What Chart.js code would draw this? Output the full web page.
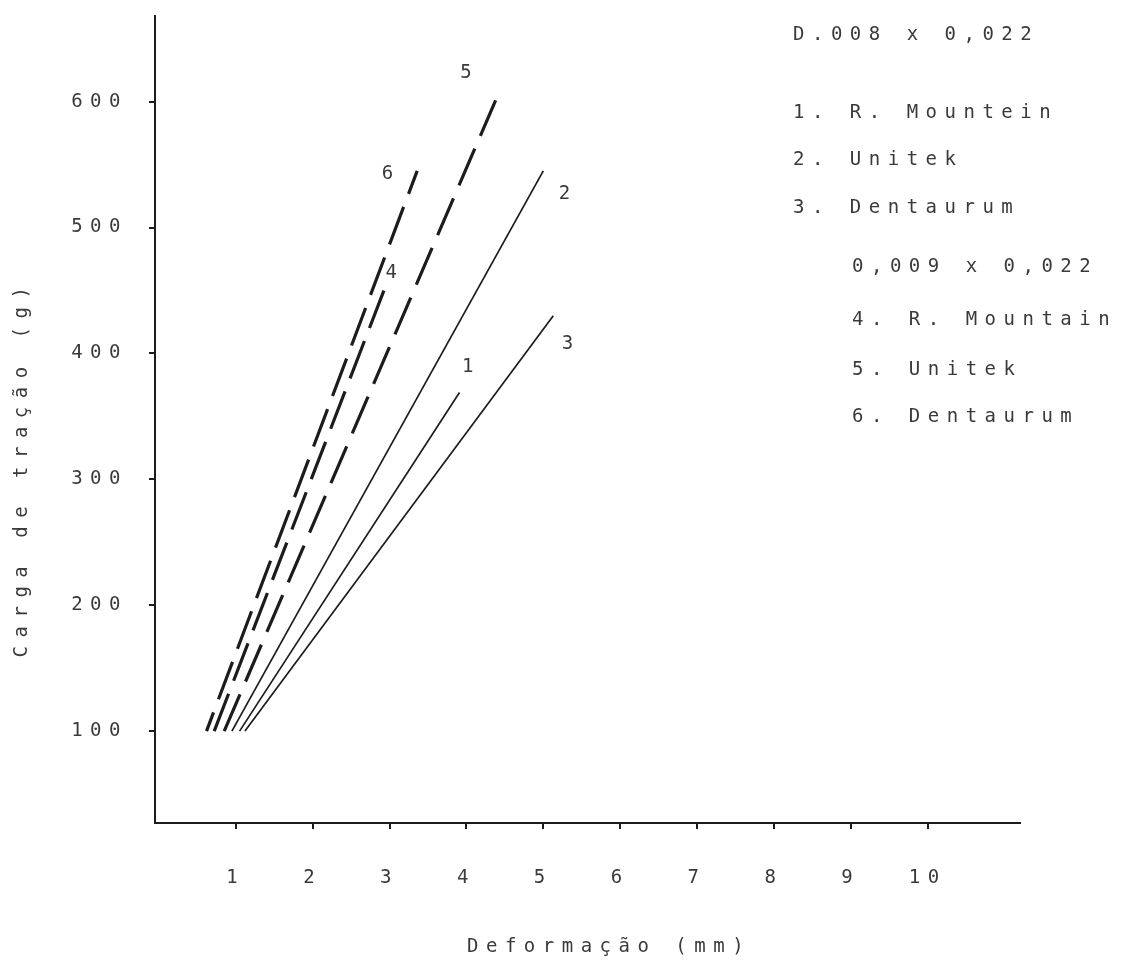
<!DOCTYPE html>
<html>
<head>
<meta charset="utf-8">
<script src="https://cdn.jsdelivr.net/npm/chart.js@4.4.1/dist/chart.umd.min.js"></script>
<style>
  html, body { margin: 0; padding: 0; background: #fff; }
  #wrap { width: 1122px; height: 960px; position: relative; }
</style>
</head>
<body>
<div id="wrap"><canvas id="c"></canvas></div>
<script>
// --- Data ---

const xTicks = [1, 2, 3, 4, 5, 6, 7, 8, 9, 10]
const yTicks = [100, 200, 300, 400, 500, 600]

// 0,008 x 0,022 (solid)
const line1 = [{ x: 1.05, y: 100 }, { x: 3.91, y: 369 }]
const line2 = [{ x: 0.95, y: 100 }, { x: 5.0, y: 545 }]
const line3 = [{ x: 1.12, y: 100 }, { x: 5.13, y: 430 }]
// 0,009 x 0,022 (dashed)
const line4 = [{ x: 0.72, y: 100 }, { x: 2.94, y: 452 }]
const line5 = [{ x: 0.85, y: 100 }, { x: 4.38, y: 601 }]
const line6 = [{ x: 0.62, y: 100 }, { x: 3.36, y: 545 }]

const seriesLabels = ['1', '2', '3', '4', '5', '6']

const legendText = [
  'D.008 x 0,022',
  '1. R. Mountein',
  '2. Unitek',
  '3. Dentaurum',
  '0,009 x 0,022',
  '4. R. Mountain',
  '5. Unitek',
  '6. Dentaurum'
]

// --- Styling ---

const FONT = '19px "DejaVu Sans Mono", "Liberation Mono", monospace'
const SPACING = '7.5px'
const INK = '#1c1c1c'
const TEXT = '#3a3a3a'

// where each number sits relative to the top end of its line
const labelOffsets = [[12, -25], [25, 23], [18, 28], [10, -15], [-26, -27], [-26, 3]]
// legend rows: [left, middle]
const legendPos = [[793, 35], [793, 113], [793, 160], [793, 208], [852, 267], [852, 320], [852, 370], [852, 417]]

function ds(data, dashed, dashOffset) {
  return {
    data: data,
    showLine: true,
    borderColor: INK,
    borderWidth: dashed ? 3.2 : 1.7,
    borderDash: dashed ? [40, 14] : [],
    borderDashOffset: dashOffset || 0,
    pointRadius: 0,
    fill: false,
    tension: 0
  }
}

const typewriter = {
  id: 'typewriter',
  beforeDraw(chart) {
    chart.ctx.letterSpacing = SPACING
  },
  afterDraw(chart) {
    const ctx = chart.ctx
    ctx.save()
    ctx.letterSpacing = SPACING
    ctx.font = FONT
    ctx.fillStyle = TEXT
    ctx.textBaseline = 'middle'

    // numbers at the line ends
    ctx.textAlign = 'center'
    chart.data.datasets.forEach((d, i) => {
      const meta = chart.getDatasetMeta(i)
      const pt = meta.data[meta.data.length - 1]
      ctx.fillText(seriesLabels[i], pt.x + labelOffsets[i][0], pt.y + labelOffsets[i][1])
    })

    // legend block
    ctx.textAlign = 'left'
    legendText.forEach((t, i) => ctx.fillText(t, legendPos[i][0], legendPos[i][1]))

    // axis titles
    ctx.fillText('Deformação (mm)', 467, 947)
    ctx.letterSpacing = '8.5px'
    ctx.translate(22, 468)
    ctx.rotate(-Math.PI / 2)
    ctx.textAlign = 'center'
    ctx.fillText('Carga de tração (g)', 0, 0)
    ctx.restore()
  }
}

new Chart(document.getElementById('c'), {
  type: 'scatter',
  data: {
    datasets: [
      ds(line1, false), ds(line2, false), ds(line3, false),
      ds(line4, true), ds(line5, true), ds(line6, true, 20)
    ]
  },
  options: {
    responsive: true,
    maintainAspectRatio: false,
    animation: false,
    events: [],
    layout: { padding: { top: 16, right: 102, left: 0, bottom: 0 } },
    plugins: { legend: { display: false }, tooltip: { enabled: false } },
    scales: {
      x: {
        type: 'linear',
        min: -0.05,
        max: 11.2,
        afterBuildTicks: s => { s.ticks = xTicks.map(v => ({ value: v })) },
        afterFit: s => { s.height = 137; s.paddingLeft = 0; s.paddingRight = 0 },
        border: { display: true, color: INK, width: 2 },
        grid: { drawOnChartArea: false, color: INK, lineWidth: 2, tickLength: 6 },
        ticks: { color: TEXT, font: { family: '"DejaVu Sans Mono", monospace', size: 19 }, padding: 38, maxRotation: 0 }
      },
      y: {
        type: 'linear',
        min: 27,
        max: 668,
        afterBuildTicks: s => { s.ticks = yTicks.map(v => ({ value: v })) },
        afterFit: s => { s.width = 155; s.paddingTop = 0; s.paddingBottom = 0 },
        border: { display: true, color: INK, width: 2 },
        grid: { drawOnChartArea: false, color: INK, lineWidth: 2, tickLength: 6 },
        ticks: { color: TEXT, font: { family: '"DejaVu Sans Mono", monospace', size: 19 }, padding: 21 }
      }
    }
  },
  plugins: [typewriter]
})
</script>
</body>
</html>
